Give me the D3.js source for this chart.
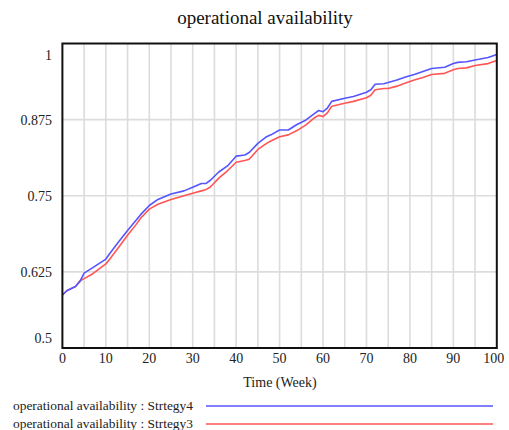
<!DOCTYPE html>
<html><head><meta charset="utf-8">
<script src="https://cdn.jsdelivr.net/npm/d3@7"></script>
<style>
body{margin:0;background:#fff;}
svg{display:block;}
</style></head>
<body><svg id="c" width="509" height="430"></svg>
<script>
const weeks = [0,1,3,4,5,7,10,11,13,15,17,18,20,22,25,28,30,32,33,34,36,38,40,42,43,45,47,48,50,52,54,56,58,59,60,61,62,65,67,70,71,72,74,75,77,79,81,83,85,88,90,91,93,95,98,100];
const strategy4 = [0.587,0.594,0.601,0.609,0.623,0.632,0.646,0.656,0.675,0.693,0.710,0.719,0.734,0.744,0.753,0.758,0.764,0.770,0.770,0.775,0.789,0.799,0.815,0.817,0.821,0.836,0.847,0.850,0.858,0.858,0.867,0.874,0.885,0.890,0.888,0.894,0.905,0.910,0.913,0.920,0.924,0.933,0.934,0.936,0.940,0.945,0.949,0.954,0.959,0.961,0.967,0.969,0.970,0.973,0.977,0.982];
const strategy3 = [0.587,0.594,0.601,0.610,0.614,0.622,0.638,0.647,0.666,0.685,0.703,0.713,0.728,0.736,0.744,0.750,0.754,0.758,0.760,0.764,0.779,0.791,0.805,0.808,0.810,0.826,0.836,0.840,0.847,0.850,0.857,0.866,0.878,0.882,0.880,0.886,0.897,0.902,0.905,0.911,0.915,0.924,0.926,0.926,0.930,0.935,0.940,0.944,0.949,0.951,0.957,0.959,0.960,0.964,0.967,0.972];
const xTicks = [0,10,20,30,40,50,60,70,80,90,100];
const xGrid = [5,10,15,20,25,30,35,40,45,50,55,60,65,70,75,80,85,90,95];
const yTicks = [0.5,0.625,0.75,0.875,1];
const yTickLabels = ["0.5","0.625","0.75","0.875","1"];
const seriesNames = ["operational availability : Strtegy4","operational availability : Strtegy3"];
const seriesColors = ["#5555ff","#ff5555"];

const FONT = "'Liberation Serif'";
const L=62.4, R=496.8, T=43.5, B=348;
const svg = d3.select("#c");
const x = d3.scaleLinear().domain([0,100]).range([L,R]);
const y = d3.scaleLinear().domain([0.5,1]).range([B,T]);

function txt(sel){ return sel.style("font-family",FONT).attr("fill","#222"); }

txt(svg.append("text")).attr("x",265).attr("y",24).attr("text-anchor","middle")
  .style("font-size","19px").attr("fill","#111").text("operational availability");

// grid
svg.append("g").selectAll("line").data(xGrid).join("line")
  .attr("x1",d=>x(d)).attr("x2",d=>x(d)).attr("y1",T).attr("y2",B)
  .attr("stroke","#dcdcdc").attr("stroke-width",1.6);
svg.append("g").selectAll("line").data(yTicks.slice(1,-1)).join("line")
  .attr("x1",L).attr("x2",R).attr("y1",d=>y(d)).attr("y2",d=>y(d))
  .attr("stroke","#dcdcdc").attr("stroke-width",1.6);

// lines
const series=[strategy4,strategy3];
const line = d3.line().x((d,i)=>x(weeks[i])).y(d=>y(d));
[1,0].forEach(k=>{
  svg.append("path").datum(series[k]).attr("d",line).attr("fill","none")
    .attr("stroke",seriesColors[k]).attr("stroke-width",1.6).attr("stroke-linejoin","round");
});

// border
svg.append("rect").attr("x",L).attr("y",T).attr("width",R-L).attr("height",B-T)
  .attr("fill","none").attr("stroke","#111").attr("stroke-width",2);

// y labels
txt(svg.append("g").selectAll("text").data(yTicks).join("text"))
  .attr("x",52).attr("text-anchor","end").attr("dy","0.35em")
  .attr("y",d=>Math.min(Math.max(y(d),T+12),B-10))
  .style("font-size","14px").text((d,i)=>yTickLabels[i]);

// x labels
txt(svg.append("g").selectAll("text").data(xTicks).join("text"))
  .attr("x",d=>d===100?x(d)-3:x(d)).attr("y",358).attr("dy","0.35em").attr("text-anchor","middle")
  .style("font-size","14px").text(d=>d);

txt(svg.append("text")).attr("x",280).attr("y",382).attr("dy","0.35em").attr("text-anchor","middle")
  .style("font-size","14px").text("Time (Week)");

// legend
const lg = svg.append("g");
seriesNames.forEach((n,i)=>{
  const yy = 406 + i*18;
  txt(lg.append("text")).attr("x",13).attr("y",yy).attr("dy","0.35em")
    .attr("textLength",180).attr("lengthAdjust","spacingAndGlyphs")
    .style("font-size","12px").text(n);
  lg.append("line").attr("x1",206).attr("x2",493).attr("y1",yy).attr("y2",yy)
    .attr("stroke",seriesColors[i]).attr("stroke-width",1.6);
});
</script></body></html>
